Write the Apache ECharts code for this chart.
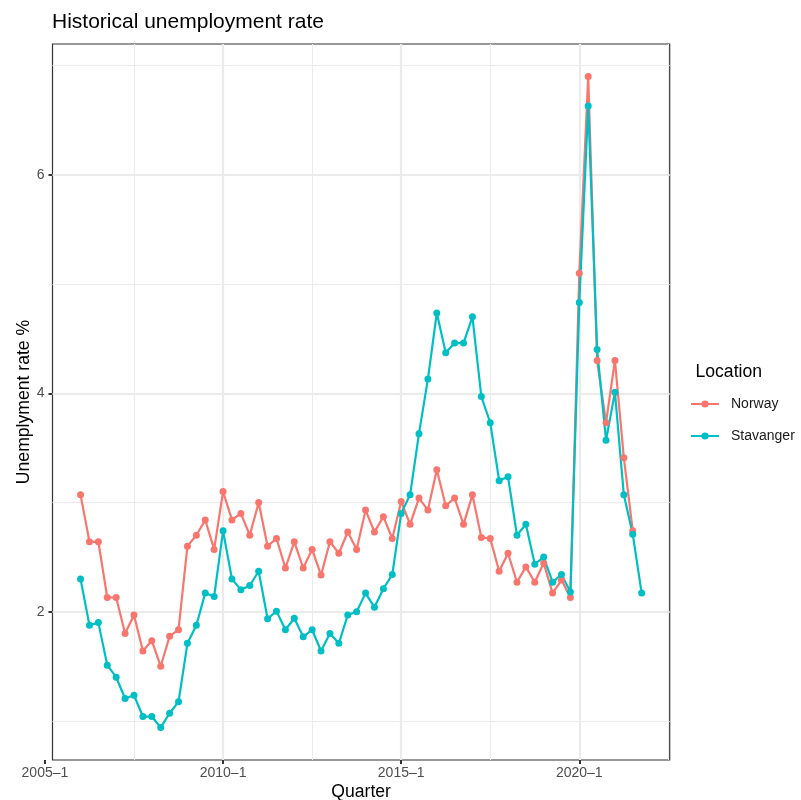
<!DOCTYPE html>
<html>
<head>
<meta charset="utf-8">
<script src="https://cdn.jsdelivr.net/npm/echarts@6/dist/echarts.min.js"></script>
<style>
  html, body { margin: 0; padding: 0; background: #ffffff; }
  #chart { width: 801px; height: 800px; }
</style>
</head>
<body>
<div id="chart"></div>
<script>
// Quarterly unemployment rate (%), Norway vs Stavanger
const quarters = [
  '2006-1','2006-2','2006-3','2006-4','2007-1','2007-2','2007-3','2007-4',
  '2008-1','2008-2','2008-3','2008-4','2009-1','2009-2','2009-3','2009-4',
  '2010-1','2010-2','2010-3','2010-4','2011-1','2011-2','2011-3','2011-4',
  '2012-1','2012-2','2012-3','2012-4','2013-1','2013-2','2013-3','2013-4',
  '2014-1','2014-2','2014-3','2014-4','2015-1','2015-2','2015-3','2015-4',
  '2016-1','2016-2','2016-3','2016-4','2017-1','2017-2','2017-3','2017-4',
  '2018-1','2018-2','2018-3','2018-4','2019-1','2019-2','2019-3','2019-4',
  '2020-1','2020-2','2020-3','2020-4','2021-1','2021-2','2021-3','2021-4'
];

const norway = [
  3.07, 2.64, 2.64, 2.13, 2.13, 1.80, 1.97, 1.64,
  1.735, 1.50, 1.775, 1.835, 2.60, 2.70, 2.84, 2.57,
  3.10, 2.84, 2.90, 2.70, 3.00, 2.60, 2.67, 2.40,
  2.64, 2.40, 2.57, 2.335, 2.64, 2.535, 2.73, 2.57,
  2.93, 2.73, 2.87, 2.67, 3.01, 2.80, 3.04, 2.93,
  3.30, 2.97, 3.04, 2.80, 3.07, 2.68, 2.67, 2.37,
  2.535, 2.27, 2.41, 2.27, 2.445, 2.17, 2.29, 2.13,
  5.10, 6.90, 4.30, 3.73, 4.30, 3.41, 2.74, null
];

const stavanger = [
  2.30, 1.875, 1.90, 1.51, 1.40, 1.205, 1.235, 1.04,
  1.04, 0.94, 1.07, 1.175, 1.71, 1.875, 2.17, 2.14,
  2.74, 2.30, 2.20, 2.24, 2.37, 1.935, 2.005, 1.835,
  1.94, 1.77, 1.835, 1.64, 1.80, 1.71, 1.97, 2.00,
  2.17, 2.04, 2.21, 2.34, 2.90, 3.07, 3.63, 4.13,
  4.735, 4.37, 4.46, 4.46, 4.70, 3.97, 3.73, 3.20,
  3.235, 2.70, 2.80, 2.435, 2.50, 2.27, 2.34, 2.18,
  4.83, 6.63, 4.40, 3.57, 4.01, 3.07, 2.71, 2.17
];

const xTickLabels = ['2005–1', '2010–1', '2015–1', '2020–1'];
const yTickValues = [2, 4, 6];

const COLORS = { Norway: '#F8766D', Stavanger: '#00BFC4' };
const FONT = "'Liberation Sans', Arial, Helvetica, sans-serif";

// quarter label -> running quarter number counted from the first tick label
function parseQuarter(s) {
  const parts = s.split(/[-–]/);
  return { year: +parts[0], q: +parts[1] };
}
const origin = parseQuarter(xTickLabels[0]);
function quarterIndex(s) {
  const p = parseQuarter(s);
  return (p.year - origin.year) * 4 + (p.q - origin.q);
}
const xTickPos = xTickLabels.map(quarterIndex);
const labelAt = {};
xTickLabels.forEach((l, k) => { labelAt[xTickPos[k]] = l; });

function toPoints(values) {
  const pts = [];
  values.forEach((v, k) => { if (v !== null) pts.push([quarterIndex(quarters[k]), v]); });
  return pts;
}
const norwayPts = toPoints(norway);
const stavangerPts = toPoints(stavanger);

// 5% expansion on both scales
const allX = norwayPts.concat(stavangerPts).map(p => p[0]);
const allY = norwayPts.concat(stavangerPts).map(p => p[1]);
const xLo = Math.min(...allX), xHi = Math.max(...allX);
const yLo = Math.min(...allY), yHi = Math.max(...allY);
const xMin = xLo - 0.05 * (xHi - xLo), xMax = xHi + 0.05 * (xHi - xLo);
const yMin = yLo - 0.05 * (yHi - yLo), yMax = yHi + 0.05 * (yHi - yLo);

// major / minor grid positions
const xStep = xTickPos[1] - xTickPos[0];
const yStep = yTickValues[1] - yTickValues[0];
const inX = v => v >= xMin && v <= xMax;
const inY = v => v >= yMin && v <= yMax;
const xMajor = xTickPos.filter(inX);
const xMinor = xTickPos.map(v => v + xStep / 2).filter(inX);
const yMajor = yTickValues.filter(inY);
const yMinor = yTickValues.map(v => v - yStep / 2)
  .concat([yTickValues[yTickValues.length - 1] + yStep / 2]).filter(inY);

// panel geometry
const PANEL = { left: 52.5, top: 44, width: 617.2, height: 716 };
const pxPerQ = PANEL.width / (xMax - xMin);
const tickGridLeft = PANEL.left - (xMin - xTickPos[0]) * pxPerQ;

function gridSeries(xs, ys, width) {
  return {
    type: 'line', xAxisIndex: 0, yAxisIndex: 0, data: [], silent: true, z: 1,
    markLine: {
      silent: true, symbol: ['none', 'none'], animation: false, z: 1,
      label: { show: false },
      emphasis: { disabled: true },
      lineStyle: { color: '#ebebeb', width: width, type: 'solid' },
      data: ys.map(v => ({ yAxis: v })).concat(xs.map(v => ({ xAxis: v })))
    }
  };
}

function dataSeries(name, pts) {
  return {
    name: name, type: 'line', xAxisIndex: 0, yAxisIndex: 0, data: pts, z: 3,
    color: COLORS[name],
    symbol: 'circle', symbolSize: 7, showSymbol: true,
    lineStyle: { width: 2.2, color: COLORS[name] },
    itemStyle: { color: COLORS[name] },
    emphasis: { disabled: true }
  };
}

const chart = echarts.init(document.getElementById('chart'), null, { renderer: 'canvas' });
chart.setOption({
  animation: false,
  backgroundColor: '#ffffff',
  textStyle: { fontFamily: FONT },
  title: [
    { text: 'Historical unemployment rate', left: 52, top: 11.5, padding: 0,
      textStyle: { fontSize: 21, fontWeight: 'normal', color: '#000000', fontFamily: FONT } },
    { text: 'Location', left: 695.5, top: 363.5, padding: 0,
      textStyle: { fontSize: 17.6, fontWeight: 'normal', color: '#000000', fontFamily: FONT } }
  ],
  legend: {
    data: ['Norway', 'Stavanger'],
    orient: 'vertical', left: 690, top: 397, padding: 0,
    itemWidth: 28, itemHeight: 9, itemGap: 18,
    selectedMode: false,
    textStyle: { fontSize: 14, color: '#1a1a1a', fontFamily: FONT, padding: [0, 0, 0, 7] }
  },
  grid: [
    { left: PANEL.left, top: PANEL.top, width: PANEL.width, height: PANEL.height,
      show: true, borderColor: '#333333', borderWidth: 1.2, backgroundColor: 'transparent',
      containLabel: false, outerBoundsMode: 'none' },
    { left: tickGridLeft, top: PANEL.top, width: PANEL.left + PANEL.width - tickGridLeft, height: PANEL.height,
      show: false, containLabel: false, outerBoundsMode: 'none' }
  ],
  xAxis: [
    { gridIndex: 0, type: 'value', min: xMin, max: xMax,
      axisLine: { show: false }, axisTick: { show: false }, axisLabel: { show: false },
      splitLine: { show: false }, minorSplitLine: { show: false },
      name: 'Quarter', nameLocation: 'middle', nameGap: 23, nameMoveOverlap: false,
      nameTextStyle: { fontSize: 17.6, color: '#000000', fontFamily: FONT } },
    { gridIndex: 1, type: 'value', min: xTickPos[0], max: xMax, position: 'bottom',
      axisLine: { show: false },
      axisTick: { show: true, length: 4, customValues: xTickPos, lineStyle: { color: '#333333', width: 2 } },
      axisLabel: { show: true, customValues: xTickPos, margin: 6, fontSize: 14, color: '#4d4d4d', fontFamily: FONT,
        formatter: v => (labelAt[v] !== undefined ? labelAt[v] : '') },
      splitLine: { show: false } }
  ],
  yAxis: [
    { gridIndex: 0, type: 'value', min: yMin, max: yMax,
      axisLine: { show: false },
      axisTick: { show: true, length: 4, customValues: yTickValues, lineStyle: { color: '#333333', width: 2 } },
      axisLabel: { show: true, customValues: yTickValues, margin: 8, fontSize: 14, color: '#4d4d4d', fontFamily: FONT },
      splitLine: { show: false },
      name: 'Unemplyment rate %', nameLocation: 'middle', nameGap: 19.5, nameMoveOverlap: false,
      nameTextStyle: { fontSize: 17.6, color: '#000000', fontFamily: FONT } },
    { gridIndex: 1, type: 'value', min: yMin, max: yMax, show: false }
  ],
  series: [
    gridSeries(xMinor, yMinor, 1.1),
    gridSeries(xMajor, yMajor, 2.2),
    dataSeries('Norway', norwayPts),
    dataSeries('Stavanger', stavangerPts),
    { type: 'line', xAxisIndex: 1, yAxisIndex: 1, data: [], silent: true }
  ]
});
</script>
</body>
</html>
